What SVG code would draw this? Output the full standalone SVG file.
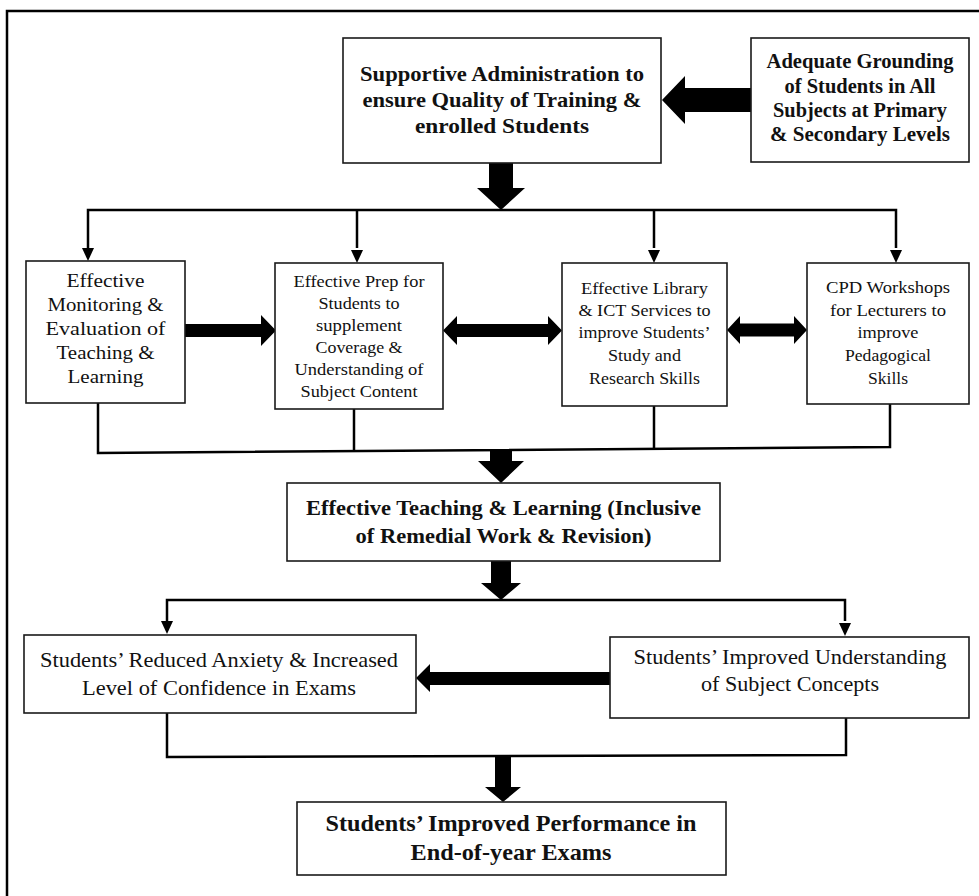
<svg xmlns="http://www.w3.org/2000/svg" width="979" height="896" viewBox="0 0 979 896">
  <style>
    .box { fill: #ffffff; stroke: #1a1a1a; stroke-width: 1.6; }
    .b { font-family: 'Liberation Serif', 'Times New Roman', Times, serif; font-weight: bold; fill: #111; text-anchor: middle; }
    .r { font-family: 'Liberation Serif', 'Times New Roman', Times, serif; fill: #111; text-anchor: middle; }
    .w { font-family: 'Liberation Serif', 'Times New Roman', Times, serif; fill: #111; text-anchor: middle; }
    .line { fill: none; stroke: #000; stroke-width: 2.5; }
    .head { fill: #000; }
    .fat { fill: #000; }
    .frame { fill: none; stroke: #000; stroke-width: 2.5; }
  </style>
  <rect x="0" y="0" width="979" height="896" fill="#ffffff"/>
  <path class="frame" d="M7,896 V11 H979"/>

  <g id="connectors">
    <polygon class="fat" points="751,88 685,88 685,76 662,100 685,124 685,112 751,112"/>
    <polygon class="fat" points="489,163 513,163 513,188 525,188 501,210 477,188 489,188"/>
    <polyline class="line" points="88,248 88,210 896,210 896,248"/>
    <line class="line" x1="357" y1="210" x2="357" y2="248"/>
    <line class="line" x1="654" y1="210" x2="654" y2="248"/>
    <polygon class="head" points="82,248 94,248 88,261"/>
    <polygon class="head" points="351,250 363,250 357,263"/>
    <polygon class="head" points="648,250 660,250 654,263"/>
    <polygon class="head" points="890,250 902,250 896,263"/>
    <polygon class="fat" points="185,324 261,324 261,315 276,330.5 261,346 261,337 185,337"/>
    <polygon class="fat" points="443,330.5 457,316 457,324 548,324 548,316 562,330.5 548,345 548,337 457,337 457,345"/>
    <polygon class="fat" points="727,330 740,316 740,323.5 794,323.5 794,316 807,330 794,344 794,336.5 740,336.5 740,344"/>
    <polyline class="line" points="98,403 98,453 890,447 890,404"/>
    <line class="line" x1="354" y1="409" x2="354" y2="451"/>
    <line class="line" x1="654" y1="406" x2="654" y2="449"/>
    <polygon class="fat" points="490,450 512,450 512,461 524,461 501,483 478,461 490,461"/>
    <polygon class="fat" points="491,561 511,561 511,583 521,583 501,600 481,583 491,583"/>
    <polyline class="line" points="167,621 167,600 845,600 845,621"/>
    <polygon class="head" points="161,621 173,621 167,634"/>
    <polygon class="head" points="839,623 851,623 845,636"/>
    <polygon class="fat" points="610,672 430,672 430,664 416,678 430,692 430,685 610,685"/>
    <polyline class="line" points="167,713 167,757 846,755 846,718"/>
    <polygon class="fat" points="495,756 511,756 511,787 521,787 503,802 485,787 495,787"/>
  </g>

  <g id="node-admin">
    <rect class="box" x="343" y="38" width="318" height="125"/>
    <text class="b" font-size="22" x="502" y="81" textLength="284" lengthAdjust="spacingAndGlyphs">Supportive Administration to</text>
    <text class="b" font-size="22" x="502" y="107" textLength="279" lengthAdjust="spacingAndGlyphs">ensure Quality of Training &amp;</text>
    <text class="b" font-size="22" x="502" y="133" textLength="174" lengthAdjust="spacingAndGlyphs">enrolled Students</text>
  </g>

  <g id="node-grounding">
    <rect class="box" x="751" y="38" width="218" height="124"/>
    <text class="b" font-size="20.5" x="860" y="68" textLength="187" lengthAdjust="spacingAndGlyphs">Adequate Grounding</text>
    <text class="b" font-size="20.5" x="860" y="93" textLength="151" lengthAdjust="spacingAndGlyphs">of Students in All</text>
    <text class="b" font-size="20.5" x="860" y="117" textLength="174" lengthAdjust="spacingAndGlyphs">Subjects at Primary</text>
    <text class="b" font-size="20.5" x="860" y="141" textLength="180" lengthAdjust="spacingAndGlyphs">&amp; Secondary Levels</text>
  </g>

  <g id="node-monitoring">
    <rect class="box" x="26" y="261" width="159" height="142"/>
    <text class="w" font-size="18.5" x="105.5" y="287" textLength="78" lengthAdjust="spacingAndGlyphs">Effective</text>
    <text class="w" font-size="18.5" x="105.5" y="311" textLength="116" lengthAdjust="spacingAndGlyphs">Monitoring &amp;</text>
    <text class="w" font-size="18.5" x="105.5" y="335" textLength="120" lengthAdjust="spacingAndGlyphs">Evaluation of</text>
    <text class="w" font-size="18.5" x="105.5" y="359" textLength="98" lengthAdjust="spacingAndGlyphs">Teaching &amp;</text>
    <text class="w" font-size="18.5" x="105.5" y="383" textLength="76" lengthAdjust="spacingAndGlyphs">Learning</text>
  </g>

  <g id="node-prep">
    <rect class="box" x="275" y="263" width="168" height="146"/>
    <text class="w" font-size="16.5" x="359" y="287" textLength="131" lengthAdjust="spacingAndGlyphs">Effective Prep for</text>
    <text class="w" font-size="16.5" x="359" y="309" textLength="81" lengthAdjust="spacingAndGlyphs">Students to</text>
    <text class="w" font-size="16.5" x="359" y="331" textLength="86" lengthAdjust="spacingAndGlyphs">supplement</text>
    <text class="w" font-size="16.5" x="359" y="353" textLength="87" lengthAdjust="spacingAndGlyphs">Coverage &amp;</text>
    <text class="w" font-size="16.5" x="359" y="375" textLength="129" lengthAdjust="spacingAndGlyphs">Understanding of</text>
    <text class="w" font-size="16.5" x="359" y="397" textLength="117" lengthAdjust="spacingAndGlyphs">Subject Content</text>
  </g>

  <g id="node-library">
    <rect class="box" x="562" y="263" width="165" height="143"/>
    <text class="w" font-size="16.5" x="644.5" y="294" textLength="127" lengthAdjust="spacingAndGlyphs">Effective Library</text>
    <text class="w" font-size="16.5" x="644.5" y="316" textLength="132" lengthAdjust="spacingAndGlyphs">&amp; ICT Services to</text>
    <text class="w" font-size="16.5" x="644.5" y="338" textLength="132" lengthAdjust="spacingAndGlyphs">improve Students’</text>
    <text class="w" font-size="16.5" x="644.5" y="361" textLength="73" lengthAdjust="spacingAndGlyphs">Study and</text>
    <text class="w" font-size="16.5" x="644.5" y="384" textLength="111" lengthAdjust="spacingAndGlyphs">Research Skills</text>
  </g>

  <g id="node-cpd">
    <rect class="box" x="807" y="263" width="162" height="141"/>
    <text class="w" font-size="16.5" x="888" y="293" textLength="124" lengthAdjust="spacingAndGlyphs">CPD Workshops</text>
    <text class="w" font-size="16.5" x="888" y="316" textLength="116" lengthAdjust="spacingAndGlyphs">for Lecturers to</text>
    <text class="w" font-size="16.5" x="888" y="338" textLength="61" lengthAdjust="spacingAndGlyphs">improve</text>
    <text class="w" font-size="16.5" x="888" y="361" textLength="86" lengthAdjust="spacingAndGlyphs">Pedagogical</text>
    <text class="w" font-size="16.5" x="888" y="384" textLength="40" lengthAdjust="spacingAndGlyphs">Skills</text>
  </g>

  <g id="node-teaching">
    <rect class="box" x="287" y="483" width="433" height="78"/>
    <text class="b" font-size="22" x="503.5" y="515" textLength="395" lengthAdjust="spacingAndGlyphs">Effective Teaching &amp; Learning (Inclusive</text>
    <text class="b" font-size="22" x="503.5" y="543" textLength="296" lengthAdjust="spacingAndGlyphs">of Remedial Work &amp; Revision)</text>
  </g>

  <g id="node-anxiety">
    <rect class="box" x="24" y="635" width="392" height="78"/>
    <text class="r" font-size="22" x="219" y="667" textLength="358" lengthAdjust="spacingAndGlyphs">Students’ Reduced Anxiety &amp; Increased</text>
    <text class="r" font-size="22" x="219" y="695" textLength="274" lengthAdjust="spacingAndGlyphs">Level of Confidence in Exams</text>
  </g>

  <g id="node-understanding">
    <rect class="box" x="610" y="637" width="359" height="81"/>
    <text class="r" font-size="22" x="790" y="664" textLength="313" lengthAdjust="spacingAndGlyphs">Students’ Improved Understanding</text>
    <text class="r" font-size="22" x="790" y="691" textLength="178" lengthAdjust="spacingAndGlyphs">of Subject Concepts</text>
  </g>

  <g id="node-performance">
    <rect class="box" x="297" y="802" width="429" height="73"/>
    <text class="b" font-size="24" x="511" y="831" textLength="371" lengthAdjust="spacingAndGlyphs">Students’ Improved Performance in</text>
    <text class="b" font-size="24" x="511" y="860" textLength="201" lengthAdjust="spacingAndGlyphs">End-of-year Exams</text>
  </g>
</svg>
